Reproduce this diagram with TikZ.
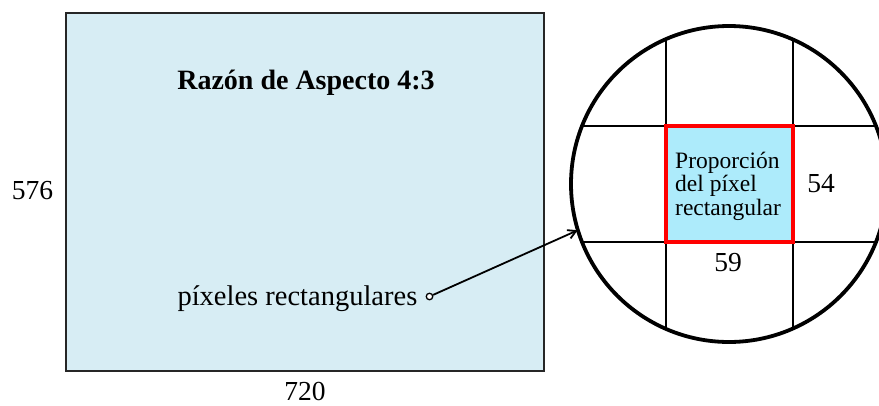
\documentclass[tikz,border=0pt]{standalone}
\usepackage{fontspec}
\setmainfont{Liberation Serif}
\usetikzlibrary{arrows.meta}
\definecolor{screenfill}{HTML}{D7EDF4}
\definecolor{pixfill}{HTML}{ADEBFB}
\definecolor{pixred}{HTML}{FF0000}
\tikzset{
  lbl/.style={inner sep=0pt, anchor=base, font=\fontsize{27.5}{30}\selectfont},
  small/.style={inner sep=0pt, anchor=base west, align=left, font=\fontsize{23.5}{23.5}\selectfont},
  gridline/.style={line width=2.8pt, black},
}
\begin{document}
\begin{tikzpicture}[x=1pt,y=-1pt]
\useasboundingbox (0,0) rectangle (879,405);
% screen
\node[draw=black!85, line width=2.2pt, fill=screenfill, minimum width=478pt, minimum height=358pt, inner sep=0pt] (screen) at (305,192) {};
\node[lbl, font=\fontsize{28}{30}\bfseries] (title) at (306,89) {Razón de Aspecto 4:3};
\node[lbl] (h) at (32.5,199) {576};
\node[lbl] (w) at (305,400) {720};
\node[lbl, anchor=base east, font=\fontsize{28.5}{30}\selectfont] (pr) at (417.5,305) {píxeles rectangulares};
\node[circle, draw, line width=1.3pt, fill=white, minimum size=6.5pt, inner sep=0pt] (dot) at (429.5,296.5) {};
% magnifier
\node[circle, minimum size=316pt, inner sep=0pt] (mag) at (729,184) {};
\begin{scope}
  \clip (729,184) circle (158pt);
  \draw[gridline] (666,0) -- (666,400);
  \draw[gridline] (793,0) -- (793,400);
  \draw[gridline] (500,126) -- (950,126);
  \draw[gridline] (500,242) -- (950,242);
\end{scope}
\node[draw=pixred, line width=3.4pt, fill=pixfill, minimum width=127pt, minimum height=116pt, inner sep=0pt] (pix) at (729.5,184) {};
\node[small] (ptxt) at (675,215) {Proporción\\del píxel\\rectangular};
\node[lbl] (v) at (821,192) {54};
\node[lbl] (u) at (728,271) {59};
\draw[line width=3.8pt] (mag.center) circle (158pt);
\draw[line width=1.8pt, -{Straight Barb[length=8pt,width=9pt,line width=1.8pt]}] (dot) -- (mag.197);
\end{tikzpicture}
\end{document}
